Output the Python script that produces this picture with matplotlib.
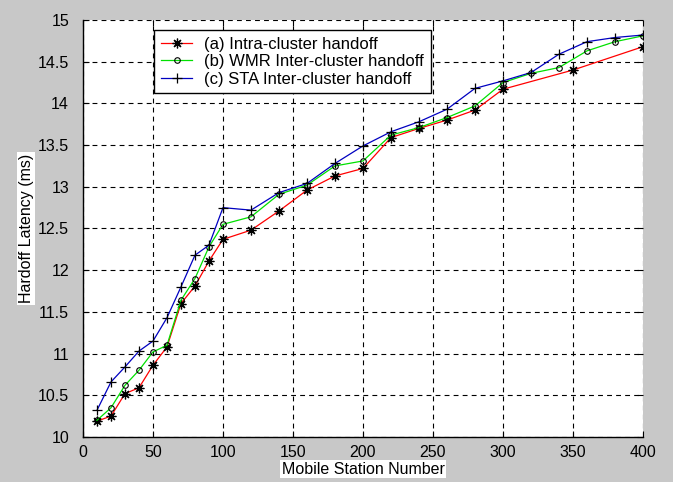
import numpy as np
import matplotlib
matplotlib.use('Agg')
import matplotlib.pyplot as plt

# data
x_a = [10, 20, 30, 40, 50, 60, 70, 80, 90, 100, 120, 140, 160, 180, 200,
       220, 240, 260, 280, 300, 350, 400]
y_a = [10.19, 10.25, 10.52, 10.59, 10.86, 11.08, 11.60, 11.81, 12.11, 12.37,
       12.48, 12.71, 12.96, 13.13, 13.22, 13.59, 13.70, 13.80, 13.92, 14.17,
       14.40, 14.68]

x_bc = [10, 20, 30, 40, 50, 60, 70, 80, 90, 100, 120, 140, 160, 180, 200,
        220, 240, 260, 280, 300, 320, 340, 360, 380, 400]
y_b = [10.20, 10.35, 10.62, 10.80, 11.02, 11.10, 11.64, 11.90, 12.28, 12.55,
       12.64, 12.91, 13.02, 13.25, 13.31, 13.62, 13.71, 13.83, 13.97, 14.25,
       14.36, 14.43, 14.63, 14.74, 14.81]
y_c = [10.32, 10.66, 10.84, 11.03, 11.15, 11.43, 11.80, 12.18, 12.30, 12.75,
       12.72, 12.93, 13.04, 13.28, 13.49, 13.66, 13.78, 13.93, 14.18, 14.27,
       14.37, 14.59, 14.74, 14.79, 14.82]

labels = ['(a) Intra-cluster handoff',
          '(b) WMR Inter-cluster handoff',
          '(c) STA Inter-cluster handoff']

xticks = np.arange(0, 401, 50)
yticks = np.arange(10, 15.01, 0.5)

plt.rcParams['font.family'] = ['Liberation Sans', 'DejaVu Sans']
plt.rcParams['lines.scale_dashes'] = False

fig = plt.figure(figsize=(6.73, 4.82), dpi=100, facecolor='#c8c8c8')
ax = fig.add_axes([0.1233, 0.0934, 0.8321, 0.8651])

# matlab style asterisk: 8 spokes
ax.plot(x_a, y_a, color='red', lw=0.9, marker=(8, 2, 0), ms=7,
        mec='black', mfc='black', mew=0.9, label=labels[0])
ax.plot(x_bc, y_b, color='#00e000', lw=0.9, marker='o', ms=4,
        mec='black', mfc='none', mew=0.8, label=labels[1])
ax.plot(x_bc, y_c, color='#0000c0', lw=0.9, marker='+', ms=6.5,
        mec='black', mew=0.9, label=labels[2])

ax.set_xlim(0, 400)
ax.set_ylim(10, 15)
ax.set_xticks(xticks)
ax.set_yticks(yticks)
ax.set_yticklabels(['%g' % v for v in yticks])
ax.grid(True, color='black', ls=(0, (3.5, 3)), lw=0.8)
ax.tick_params(direction='in', length=4, width=0.8, labelsize=11.5,
               top=True, right=True, colors='black')
ax.tick_params(axis='y', pad=10)
ax.tick_params(axis='x', pad=6)

for s in ['top', 'right']:
    ax.spines[s].set_visible(False)
for s in ['left', 'bottom']:
    ax.spines[s].set_linewidth(1.0)

ax.set_xlabel('Mobile Station Number', fontsize=11.5, labelpad=1,
              bbox=dict(facecolor='white', edgecolor='none', pad=1))
ax.set_ylabel('Hardoff Latency (ms)', fontsize=11.5, labelpad=3,
              bbox=dict(facecolor='white', edgecolor='none', pad=1))

leg = ax.legend(loc='upper left', bbox_to_anchor=(0.127, 0.976),
                borderaxespad=0, fontsize=12, fancybox=False,
                handlelength=1.9, labelspacing=0.15, borderpad=0.4,
                handletextpad=0.7)
leg.get_frame().set_edgecolor('black')
leg.get_frame().set_linewidth(1.0)
leg.get_frame().set_alpha(1)

fig.savefig('out.png', dpi=100, facecolor=fig.get_facecolor())
